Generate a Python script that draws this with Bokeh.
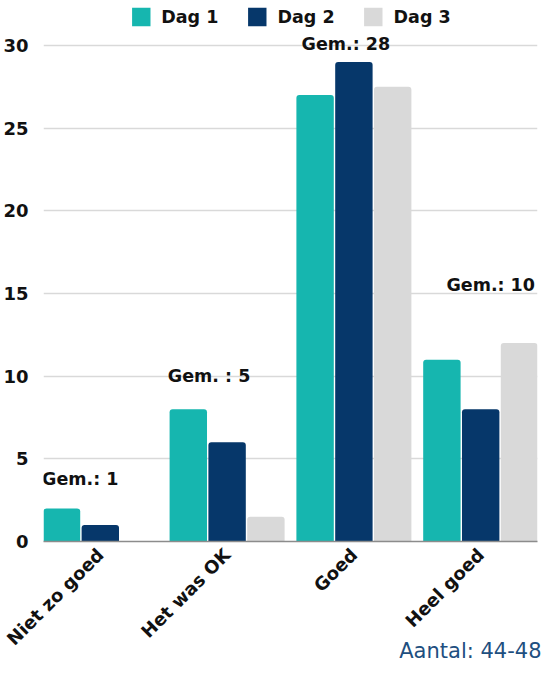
import math
from bokeh.plotting import figure
from bokeh.models import FactorRange, Range1d, FixedTicker, Title, ColumnDataSource
from bokeh.transform import dodge
from bokeh.core.properties import value
from bokeh.embed import file_html
from bokeh.resources import INLINE

categories = ["Niet zo goed", "Het was OK", "Goed", "Heel goed"]
days = ["Dag 1", "Dag 2", "Dag 3"]
dag1 = [2, 8, 27, 11]
dag2 = [1, 6, 29, 8]
dag3 = [0, 1.5, 27.5, 12]
avg_labels = ["Gem.: 1", "Gem. : 5", "Gem.: 28", "Gem.: 10"]
avg_label_y = [3.8, 10.0, 30.1, 15.5]
y_ticks = [0, 5, 10, 15, 20, 25, 30]
footnote = "Aantal: 44-48"

colors = ["#16B6AF", "#06376A", "#D9D9D9"]
FONT = "DejaVu Sans"

src = ColumnDataSource(dict(cat=categories, dag1=dag1, dag2=dag2, dag3=dag3))
lab_src = ColumnDataSource(dict(cat=categories, lab=avg_labels, laby=avg_label_y,
                                xoff=[-20, -18, -8, 10]))

x_range = FactorRange(*categories, range_padding=-0.026)
p = figure(width=543, height=663, x_range=x_range, y_range=Range1d(0, 32.48),
           output_backend="svg", toolbar_location=None,
           min_border_left=41, min_border_right=6, min_border_top=4,
           min_border_bottom=122)

for d, field, col, off in zip(days, ["dag1", "dag2", "dag3"], colors, [-0.306, 0, 0.306]):
    p.vbar(x=dodge("cat", off, range=p.x_range), top=field, source=src, width=0.295,
           fill_color=col, line_color=None, legend_label=d,
           border_radius=(3, 3, 0, 0))

p.text(x=dodge("cat", 0, range=p.x_range), y="laby", text="lab", source=lab_src,
       x_offset="xoff", text_align="center", text_baseline="middle",
       text_font=value(FONT), text_font_style="bold", text_font_size="17.5px",
       text_color="#111111")

p.add_layout(Title(text=footnote, align="right", vertical_align="top",
                   standoff=-42, offset=-4,
                   text_font=FONT, text_font_style="normal", text_font_size="21px",
                   text_color="#1E4F80"), "below")

# y axis
p.yaxis.ticker = FixedTicker(ticks=y_ticks)
p.yaxis.axis_line_color = None
p.yaxis.major_tick_line_color = None
p.yaxis.major_tick_out = 0
p.yaxis.minor_tick_line_color = None
p.yaxis.major_label_standoff = 15
p.yaxis.major_label_text_font = FONT
p.yaxis.major_label_text_font_style = "bold"
p.yaxis.major_label_text_font_size = "18px"
p.yaxis.major_label_text_color = "#111111"
p.ygrid.ticker = FixedTicker(ticks=y_ticks)
p.ygrid.grid_line_color = "#D9D9D9"
p.ygrid.grid_line_width = 1.5
p.xgrid.grid_line_color = None

# x axis
p.xaxis.axis_line_color = "#8C8C8C"
p.xaxis.axis_line_width = 1.5
p.xaxis.major_tick_line_color = None
p.xaxis.major_tick_out = 0
p.xaxis.minor_tick_line_color = None
p.xaxis.major_label_standoff = 10
p.xaxis.major_label_text_font = FONT
p.xaxis.major_label_text_font_style = "bold"
p.xaxis.major_label_text_font_size = "18px"
p.xaxis.major_label_text_color = "#111111"
p.xaxis.major_label_orientation = math.pi / 4

p.outline_line_color = None

lg = p.legend[0]
lg.orientation = "horizontal"
lg.location = "top_center"
lg.glyph_width = 23
lg.glyph_height = 23
lg.label_standoff = 9
lg.spacing = 27
lg.padding = 0
lg.margin = 1
lg.border_line_color = None
lg.background_fill_alpha = 0
lg.label_text_font = FONT
lg.label_text_font_style = "bold"
lg.label_text_font_size = "17.5px"
lg.label_text_color = "#111111"

open("out.html", "w").write(file_html(p, INLINE))
